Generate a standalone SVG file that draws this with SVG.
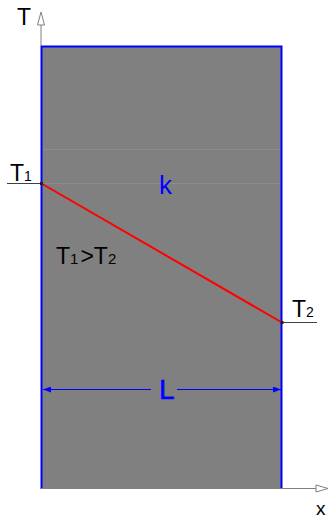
<svg xmlns="http://www.w3.org/2000/svg" width="328" height="519" viewBox="0 0 328 519">
<defs>
<style>
.lbl{font-family:"Liberation Sans",Arial,sans-serif;fill:#000}
.blue{font-family:"Liberation Sans",Arial,sans-serif;fill:#0000ff}
.axis{stroke:#808080;stroke-width:1;fill:none}
.tick{stroke:#404040;stroke-width:1;fill:none}
.head{fill:#fff;stroke:#808080;stroke-width:1}
.faint{stroke:#8c8c8c;stroke-width:1}
</style>
<marker id="ab" viewBox="0 0 8 6" refX="8" refY="3" markerWidth="8" markerHeight="6" orient="auto" markerUnits="userSpaceOnUse">
<path d="M0,0 L8,3 L0,6 Z" fill="#0000ff"/>
</marker>
</defs>
<rect width="328" height="519" fill="#fff"/>
<g id="slab">
<rect x="41.5" y="46" width="240.5" height="443" fill="#808080"/>
<line class="faint" x1="43" y1="149.5" x2="281" y2="149.5"/>
<line class="faint" x1="43" y1="183.5" x2="281" y2="183.5"/>
<path d="M41.5,489 V46.5 H281.5 V489" fill="none" stroke="#0000ff" stroke-width="2"/>
<text class="blue" x="159" y="194" font-size="26">k</text>
</g>
<g id="axes">
<line class="axis" x1="41" y1="46" x2="41" y2="24"/>
<path class="head" d="M41,12 L44.5,25 L37.5,25 Z"/>
<text class="lbl" x="17" y="25" font-size="23">T</text>
<line class="axis" x1="41" y1="488.5" x2="316" y2="488.5"/>
<path class="head" d="M328,488.5 L316,485 L316,492 Z"/>
<text class="lbl" x="316" y="515" font-size="19">x</text>
</g>
<g id="connectors">
<line class="tick" x1="7" y1="183.5" x2="41" y2="183.5"/>
<line class="tick" x1="282" y1="322.5" x2="317" y2="322.5"/>
<line x1="41.5" y1="183.5" x2="282" y2="322.5" stroke="#ff0000" stroke-width="2"/>
<rect x="40" y="182" width="3" height="3" fill="#202020"/>
<rect x="280.5" y="321" width="3" height="3" fill="#202020"/>
<line x1="151" y1="389.5" x2="43" y2="389.5" stroke="#0000ff" stroke-width="1" marker-end="url(#ab)"/>
<line x1="177" y1="389.5" x2="281" y2="389.5" stroke="#0000ff" stroke-width="1" marker-end="url(#ab)"/>
</g>
<g id="labels">
<text class="lbl" x="10" y="181" font-size="23">T<tspan font-size="14">1</tspan></text>
<text class="lbl" x="292" y="317" font-size="23">T<tspan font-size="14">2</tspan></text>
<text class="lbl" x="56" y="264" font-size="23">T<tspan font-size="15">1</tspan><tspan dx="2">&gt;</tspan>T<tspan font-size="15">2</tspan></text>
<text class="blue" x="159" y="399" font-size="28" stroke="#0000ff" stroke-width="0.6">L</text>
</g>
</svg>
